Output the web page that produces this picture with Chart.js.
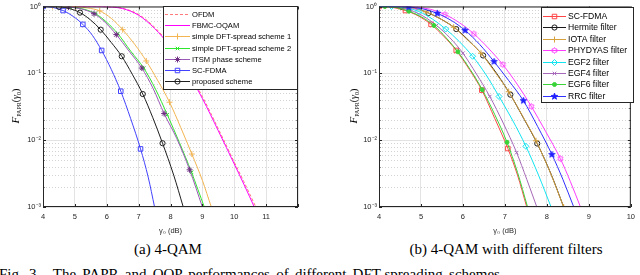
<!DOCTYPE html>
<html>
<head>
<meta charset="utf-8">
<script src="https://cdn.jsdelivr.net/npm/chart.js@4.4.1/dist/chart.umd.min.js"></script>
<style>
  html, body { margin: 0; padding: 0; background: #fff; }
  body { width: 640px; height: 275px; overflow: hidden; position: relative; }
  .panel { position: absolute; top: 0; width: 320px; height: 238px; }
  #pa { left: 0; }
  #pb { left: 320px; }
  .sub { position: absolute; top: 241px; font: 15px "Liberation Serif", "Times New Roman", serif; color: #000;
         white-space: nowrap; transform: translateX(-50%); }
  #capA { left: 168px; }
  #capB { left: 506px; }
  #fig { position: absolute; top: 266px; left: -1px; font: 15px "Liberation Serif", serif; color: #000;
         white-space: nowrap; word-spacing: 2.5px; }
</style>
</head>
<body>
<div class="panel" id="pa"><canvas id="chartA" width="320" height="238"></canvas></div>
<div class="panel" id="pb"><canvas id="chartB" width="320" height="238"></canvas></div>
<div class="sub" id="capA">(a) 4-QAM</div>
<div class="sub" id="capB">(b) 4-QAM with different filters</div>
<div id="fig">Fig. 3.&nbsp;&nbsp;The PAPR and OOP performances of different DFT-spreading schemes</div>
<script>
Chart.defaults.animation = false;

// tick labels
const xTicksA = [4, 5, 6, 7, 8, 9, 10, 11];
const xTicksB = [4, 5, 6, 7, 8, 9, 10];
const yDecades = [1, 0.1, 0.01, 0.001];
const yLabels = ['10\u2070', '10\u207B\u00B9', '10\u207B\u00B2', '10\u207B\u00B3'];

// (a) 4-QAM : x = gamma0 (dB), y = CCDF
const ofdmX = [4, 5, 5.5, 6, 6.5, 7, 7.5, 8, 8.5, 9, 9.5, 10, 10.3, 10.7];
const ofdmY = [1, 1, 0.999, 0.991, 0.94, 0.76, 0.49, 0.262, 0.118, 0.045, 0.0148, 0.0047, 0.0024, 0.00095];
const fbmcX = [4, 5, 5.5, 6, 6.5, 7, 7.5, 8, 8.5, 9, 9.5, 10, 10.3, 10.65];
const fbmcY = [1, 1, 0.999, 0.99, 0.93, 0.74, 0.47, 0.25, 0.112, 0.042, 0.0138, 0.0044, 0.0022, 0.00095];
const s1X = [4.0, 4.3, 4.66, 5.03, 5.4, 5.78, 6.15, 6.5, 6.88, 7.24, 7.6, 7.97, 8.32, 8.67, 9.0, 9.28];
const s1Y = [1.0, 1.0, 1.0, 0.99, 0.95, 0.86, 0.66, 0.45, 0.27, 0.153, 0.078, 0.037, 0.0155, 0.0062, 0.0025, 0.001];
const s2X = [4.0, 4.45, 4.85, 5.25, 5.65, 6.0, 6.35, 6.75, 7.16, 7.53, 7.9, 8.28, 8.66, 9.06];
const s2Y = [1.0, 1.0, 0.98, 0.92, 0.78, 0.58, 0.39, 0.215, 0.12, 0.058, 0.024, 0.0092, 0.0033, 0.001];
const itsmX = [4.0, 4.4, 4.8, 5.2, 5.6, 5.95, 6.3, 6.7, 7.1, 7.45, 7.8, 8.2, 8.6, 9.0];
const itsmY = [1.0, 1.0, 0.98, 0.92, 0.78, 0.58, 0.38, 0.215, 0.12, 0.06, 0.025, 0.0105, 0.0036, 0.001];
const scAX = [4.0, 4.3, 4.63, 4.95, 5.25, 5.55, 5.84, 6.14, 6.44, 6.75, 7.06, 7.3, 7.5];
const scAY = [1.0, 0.97, 0.87, 0.71, 0.54, 0.37, 0.22, 0.115, 0.054, 0.021, 0.0074, 0.0028, 0.001];
const propX = [4.0, 4.5, 4.83, 5.16, 5.49, 5.81, 6.14, 6.47, 6.8, 7.13, 7.44, 7.75, 8.1, 8.4];
const propY = [1.0, 0.99, 0.93, 0.81, 0.63, 0.45, 0.29, 0.18, 0.097, 0.049, 0.022, 0.009, 0.003, 0.001];

// (b) 4-QAM with different filters
const scBX = [4.0, 4.32, 4.63, 4.94, 5.24, 5.54, 5.84, 6.15, 6.45, 6.76, 7.07, 7.3, 7.52];
const scBY = [1.0, 0.97, 0.87, 0.72, 0.54, 0.36, 0.22, 0.115, 0.056, 0.021, 0.0075, 0.003, 0.001];
const hermX = [4.0, 4.53, 4.85, 5.18, 5.51, 5.84, 6.16, 6.48, 6.8, 7.13, 7.45, 7.77, 8.1, 8.4];
const hermY = [1.0, 1.0, 0.94, 0.8, 0.63, 0.46, 0.3, 0.185, 0.1, 0.048, 0.021, 0.0089, 0.0031, 0.001];
const iotaX = [4.0, 4.47, 4.8, 5.12, 5.45, 5.78, 6.1, 6.43, 6.76, 7.09, 7.42, 7.74, 8.07, 8.4];
const iotaY = [1.0, 1.0, 0.95, 0.83, 0.66, 0.49, 0.32, 0.2, 0.105, 0.053, 0.023, 0.0098, 0.0034, 0.001];
const phyX = [4.0, 4.45, 4.88, 5.22, 5.57, 5.92, 6.26, 6.6, 6.95, 7.29, 7.63, 7.97, 8.32, 8.56, 8.8];
const phyY = [1.0, 1.0, 0.98, 0.91, 0.76, 0.57, 0.39, 0.24, 0.135, 0.069, 0.032, 0.0135, 0.0053, 0.0024, 0.001];
const egf2X = [4.0, 4.3, 4.63, 4.95, 5.27, 5.59, 5.91, 6.23, 6.55, 6.86, 7.18, 7.5, 7.8, 8.1];
const egf2Y = [1.0, 1.0, 0.96, 0.84, 0.65, 0.46, 0.3, 0.18, 0.095, 0.045, 0.02, 0.0081, 0.003, 0.001];
const egf4X = [4.0, 4.1, 4.42, 4.74, 5.05, 5.37, 5.69, 6.0, 6.32, 6.64, 6.96, 7.28, 7.52, 7.76];
const egf4Y = [1.0, 1.0, 0.97, 0.88, 0.72, 0.52, 0.34, 0.2, 0.098, 0.045, 0.018, 0.0065, 0.0026, 0.001];
const egf6X = [4.0, 4.14, 4.43, 4.71, 5.01, 5.31, 5.6, 5.88, 6.17, 6.46, 6.76, 7.05, 7.3, 7.54];
const egf6Y = [1.0, 1.0, 0.96, 0.85, 0.7, 0.52, 0.34, 0.21, 0.115, 0.057, 0.024, 0.0093, 0.0033, 0.001];
const rrcX = [4.0, 4.35, 4.71, 5.05, 5.39, 5.72, 6.05, 6.4, 6.74, 7.09, 7.44, 7.78, 8.12, 8.38, 8.64];
const rrcY = [1.0, 1.0, 0.98, 0.92, 0.79, 0.62, 0.44, 0.27, 0.15, 0.078, 0.039, 0.016, 0.0061, 0.0026, 0.001];

// star shaped markers (hexagram / pentagram)
function starMark(color, n, rOut, rIn, filled) {
  const s = 9;
  const c = document.createElement('canvas');
  c.width = s; c.height = s;
  const g = c.getContext('2d');
  g.beginPath();
  for (let i = 0; i < n * 2; i++) {
    const r = i % 2 ? rIn : rOut;
    const a = -Math.PI / 2 + i * Math.PI / n;
    g.lineTo(s / 2 + r * Math.cos(a), s / 2 + r * Math.sin(a));
  }
  g.closePath();
  if (filled) { g.fillStyle = color; g.fill(); }
  g.strokeStyle = color; g.lineWidth = 0.9; g.stroke();
  return c;
}

const isDecade = v => { const e = Math.log10(v); return Math.abs(e - Math.round(e)) < 1e-6; };
const decadeLabel = v => {
  const i = yDecades.findIndex(d => Math.abs(v - d) / d < 1e-6);
  return i < 0 ? '' : yLabels[i];
};

function series(label, xs, ys, st, i, n) {
  return {
    label,
    data: xs.map((x, k) => ({ x, y: ys[k] })),
    borderColor: st.color,
    borderWidth: 1,
    borderDash: st.dash || [],
    pointStyle: st.marker || false,
    pointRadius: c => (st.marker && c.dataIndex >= st.from && c.dataIndex <= st.to &&
      (c.dataIndex - st.from) % 2 === 0) ? st.r : 0,
    pointBorderColor: st.mcolor || st.color,
    pointBackgroundColor: st.fill ? (st.mcolor || st.color) : 'rgba(0,0,0,0)',
    pointBorderWidth: 1,
    cubicInterpolationMode: 'monotone',
    fill: false,
    order: n - i,
    legendR: st.r
  };
}

// minor dotted grid, box, inward ticks, y title
const axisBox = {
  id: 'axisBox',
  beforeDatasetsDraw(chart) {
    const { ctx, chartArea: a, scales: { y } } = chart;
    ctx.save();
    ctx.strokeStyle = '#d4d4d4';
    ctx.lineWidth = 1;
    ctx.setLineDash([1, 2]);
    y.ticks.forEach(t => {
      if (isDecade(t.value)) return;
      const py = Math.round(y.getPixelForValue(t.value)) + 0.5;
      ctx.beginPath(); ctx.moveTo(a.left, py); ctx.lineTo(a.right, py); ctx.stroke();
    });
    ctx.restore();
  },
  afterDatasetsDraw(chart, args, o) {
    const { ctx, chartArea: a, scales: { x, y } } = chart;
    ctx.save();
    ctx.strokeStyle = '#262626';
    ctx.lineWidth = 1;
    ctx.strokeRect(a.left + 0.5, a.top + 0.5, a.right - a.left - 1, a.bottom - a.top - 1);
    ctx.beginPath();
    x.ticks.forEach(t => {
      const px = Math.round(x.getPixelForValue(t.value)) + 0.5;
      ctx.moveTo(px, a.bottom); ctx.lineTo(px, a.bottom - 3);
      ctx.moveTo(px, a.top); ctx.lineTo(px, a.top + 3);
    });
    y.ticks.forEach(t => {
      const py = Math.round(y.getPixelForValue(t.value)) + 0.5;
      const l = isDecade(t.value) ? 3 : 1.5;
      ctx.moveTo(a.left, py); ctx.lineTo(a.left + l, py);
      ctx.moveTo(a.right, py); ctx.lineTo(a.right - l, py);
    });
    ctx.stroke();

    // y axis title  F_PAPR(gamma0)
    ctx.translate(o.tx, o.ty);
    ctx.rotate(-Math.PI / 2);
    ctx.fillStyle = '#000';
    const parts = [
      ['italic 11px "Liberation Serif"', 'F', 0],
      ['6px "Liberation Serif"', 'PAPR', 2.5],
      ['10px "Liberation Serif"', '(', 0],
      ['italic 10px "Liberation Serif"', '\u03B3', 0],
      ['6px "Liberation Serif"', '0', 2],
      ['10px "Liberation Serif"', ')', 0]
    ];
    let w = 0;
    parts.forEach(p => { ctx.font = p[0]; w += ctx.measureText(p[1]).width; });
    let cx = -w / 2;
    parts.forEach(p => {
      ctx.font = p[0];
      ctx.fillText(p[1], cx, 3.5 + p[2]);
      cx += ctx.measureText(p[1]).width;
    });
    ctx.restore();
  }
};

const boxLegend = {
  id: 'boxLegend',
  afterDatasetsDraw(chart, args, o) {
    const ctx = chart.ctx;
    ctx.save();
    ctx.fillStyle = '#fff';
    ctx.fillRect(o.x, o.y, o.w, o.h);
    ctx.strokeStyle = '#262626';
    ctx.lineWidth = 1;
    ctx.strokeRect(o.x + 0.5, o.y + 0.5, o.w, o.h);
    ctx.font = o.font;
    ctx.textBaseline = 'middle';
    chart.data.datasets.forEach((ds, i) => {
      const y = Math.round(o.y + o.first + i * o.row) + 0.5;
      ctx.strokeStyle = ds.borderColor;
      ctx.lineWidth = 1;
      ctx.setLineDash(ds.borderDash || []);
      ctx.beginPath(); ctx.moveTo(o.x + o.l0, y); ctx.lineTo(o.x + o.l1, y); ctx.stroke();
      ctx.setLineDash([]);
      if (ds.pointStyle) {
        ctx.strokeStyle = ds.pointBorderColor;
        ctx.fillStyle = ds.pointBackgroundColor;
        ctx.lineWidth = 1;
        Chart.helpers.drawPoint(ctx, { pointStyle: ds.pointStyle, radius: ds.legendR, borderWidth: 1, rotation: 0 },
          o.x + (o.l0 + o.l1) / 2, y);
      }
      ctx.fillStyle = '#000';
      ctx.fillText(ds.label, o.x + o.tx, y + 0.5);
    });
    ctx.restore();
  }
};

function scales(xMax, xTicks, yW, xH) {
  const tickFont = { family: '"Liberation Sans", Arial, sans-serif', size: 7.5 };
  return {
    x: {
      type: 'linear', min: 4, max: xMax,
      afterFit: s => { s.height = xH; },
      ticks: { stepSize: 1, autoSkip: false, maxRotation: 0, padding: 5, color: '#262626', font: tickFont,
        callback: v => xTicks.includes(v) ? String(v) : '' },
      grid: { color: '#e3e3e3', drawTicks: false },
      border: { display: false },
      title: { display: true, text: '\u03B3\u2080 (dB)', color: '#262626', font: tickFont, padding: { top: 0, bottom: 3 } }
    },
    y: {
      type: 'logarithmic', min: 0.001, max: 1,
      afterFit: s => { s.width = yW; },
      ticks: { autoSkip: false, padding: 2, color: '#262626', font: tickFont, callback: v => decadeLabel(v) },
      grid: { color: c => (c.tick && isDecade(c.tick.value)) ? '#e3e3e3' : 'rgba(0,0,0,0)', drawTicks: false },
      border: { display: false }
    }
  };
}

function build(id, defs, opts) {
  const n = defs.length;
  return new Chart(document.getElementById(id), {
    type: 'line',
    data: { datasets: defs.map((d, i) => series(d[0], d[1], d[2], d[3], i, n)) },
    options: {
      responsive: false,
      animation: false,
      layout: { padding: opts.pad },
      plugins: { legend: { display: false }, tooltip: { enabled: false },
        axisBox: opts.title, boxLegend: opts.legend },
      scales: scales(opts.xMax, opts.xTicks, opts.yW, opts.xH)
    },
    plugins: [axisBox, boxLegend]
  });
}

build('chartA', [
  ['OFDM', ofdmX, ofdmY, { color: '#ff7a7a', dash: [3, 2] }],
  ['FBMC-OQAM', fbmcX, fbmcY, { color: '#ff00ff' }],
  ['simple DFT-spread scheme 1', s1X, s1Y, { color: '#f2b552', marker: 'cross', r: 3, from: 1, to: 13 }],
  ['simple DFT-spread scheme 2', s2X, s2Y, { color: '#2ee62e', marker: 'crossRot', r: 2.5, from: 0, to: 12 }],
  ['ITSM phase scheme', itsmX, itsmY, { color: '#9b59b6', mcolor: '#6c2c80', marker: 'star', r: 3, from: 0, to: 12 }],
  ['SC-FDMA', scAX, scAY, { color: '#4242ff', marker: 'rect', r: 3.2, from: 0, to: 10 }],
  ['proposed scheme', propX, propY, { color: '#1f1f1f', marker: 'circle', r: 2.6, from: 1, to: 11 }]
], {
  pad: { top: 6, right: 22, left: 0, bottom: 0 }, xMax: 12, xTicks: xTicksA, yW: 43, xH: 31,
  title: { tx: 15, ty: 106 },
  legend: { x: 163, y: 6, w: 134, h: 83, first: 8, row: 11.2, l0: 2, l1: 27, tx: 29, font: '7.6px "Liberation Sans", Arial, sans-serif' }
});

build('chartB', [
  ['SC-FDMA', scBX, scBY, { color: '#ff4646', marker: 'rect', r: 3.2, from: 0, to: 10 }],
  ['Hermite filter', hermX, hermY, { color: '#1a1a1a', marker: 'circle', r: 2.6, from: 1, to: 11 }],
  ['IOTA filter', iotaX, iotaY, { color: '#d6a13c', marker: 'cross', r: 3, from: 1, to: 13 }],
  ['PHYDYAS filter', phyX, phyY, { color: '#ff3cff', marker: starMark('#ff3cff', 6, 3, 1.8, false), r: 3, from: 2, to: 12 }],
  ['EGF2 filter', egf2X, egf2Y, { color: '#12e4f0', marker: 'rectRot', r: 3, from: 1, to: 11 }],
  ['EGF4 filter', egf4X, egf4Y, { color: '#a668b8', marker: 'crossRot', r: 2.5, from: 1, to: 11 }],
  ['EGF6 filter', egf6X, egf6Y, { color: '#3ad43a', marker: 'circle', r: 2, fill: true, from: 1, to: 11 }],
  ['RRC filter', rrcX, rrcY, { color: '#3030ff', marker: starMark('#2020ff', 5, 3.4, 1.4, true), r: 3, from: 2, to: 12 }]
], {
  pad: { top: 6, right: 5, left: 0, bottom: 0 }, xMax: 10, xTicks: xTicksB, yW: 59, xH: 31,
  title: { tx: 33, ty: 106 },
  legend: { x: 221, y: 7, w: 92, h: 95, first: 9, row: 11.4, l0: 2, l1: 25, tx: 27, font: '8.6px "Liberation Sans", Arial, sans-serif' }
});
</script>
</body>
</html>
